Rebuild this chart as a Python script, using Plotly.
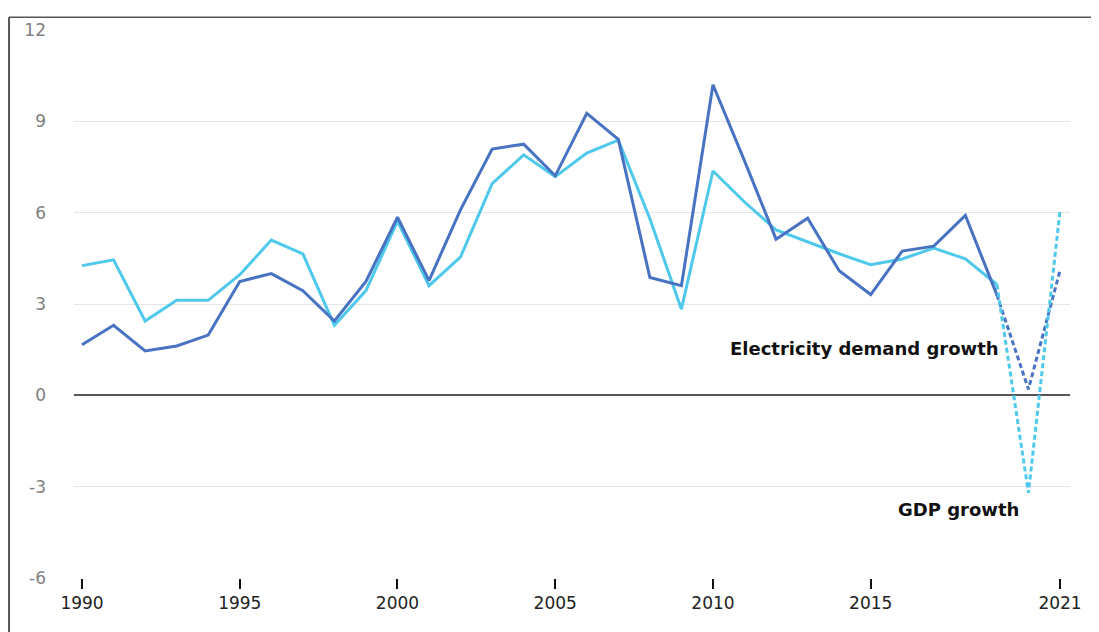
import plotly.graph_objects as go

years = list(range(1990, 2022))
electricity = [1.66, 2.3, 1.46, 1.62, 1.98, 3.74, 4.0, 3.44, 2.44, 3.74,
               5.85, 3.77, 6.1, 8.09, 8.25, 7.21, 9.26, 8.41, 3.87, 3.6,
               10.2, 7.7, 5.13, 5.82, 4.09, 3.31, 4.74, 4.9, 5.91, 3.3,
               0.2, 4.1]
gdp = [4.26, 4.45, 2.44, 3.12, 3.12, 3.96, 5.1, 4.65, 2.3, 3.44,
       5.72, 3.6, 4.55, 6.95, 7.9, 7.18, 7.96, 8.38, 5.8, 2.83,
       7.37, 6.35, 5.43, 5.04, 4.65, 4.29, 4.48, 4.84, 4.48, 3.64,
       -3.2, 6.05]
x_tickvals = [1990, 1995, 2000, 2005, 2010, 2015, 2021]
y_tickvals = [-6, -3, 0, 3, 6, 9, 12]
y_ticktext = ["-6", "-3", "0", "3", "6", "9", "12"]

split = years.index(2019)
dark = "#4872C2"
light = "#4EC9EB"

fig = go.Figure()
fig.add_trace(go.Scatter(x=years[:split + 1], y=gdp[:split + 1], mode="lines",
                         line=dict(color=light, width=3), name="GDP growth"))
fig.add_trace(go.Scatter(x=years[:split + 1], y=electricity[:split + 1], mode="lines",
                         line=dict(color=dark, width=3), name="Electricity demand growth"))
fig.add_trace(go.Scatter(x=years[split:], y=electricity[split:], mode="lines",
                         line=dict(color=dark, width=3, dash="5px,3px")))
fig.add_trace(go.Scatter(x=years[split:], y=gdp[split:], mode="lines",
                         line=dict(color=light, width=3, dash="5px,3px")))

ann_font = dict(family="DejaVu Sans", size=18, color="#111")
fig.add_annotation(x=2014.8, y=1.53, xref="x", yref="y", text="<b>Electricity demand growth</b>",
                   showarrow=False, font=ann_font)
fig.add_annotation(x=2017.77, y=-3.74, xref="x", yref="y", text="<b>GDP growth</b>",
                   showarrow=False, font=ann_font)

# frame lines (top and left)
L, T, PW, PH = 66, 16, 996, 554
top_y = 1 + (T - 3) / PH
left_x = (1 - L) / PW
fig.add_shape(type="line", xref="paper", yref="paper", x0=left_x, x1=1.05, y0=top_y, y1=top_y,
              line=dict(color="#555", width=1.5))
fig.add_shape(type="line", xref="paper", yref="paper", x0=left_x, x1=left_x, y0=-0.2, y1=top_y,
              line=dict(color="#222", width=1.5))

fig.update_layout(
    width=1091, height=624,
    margin=dict(l=L, r=29, t=T, b=54),
    plot_bgcolor="white", paper_bgcolor="white",
    showlegend=False,
    font=dict(family="DejaVu Sans", size=17),
    xaxis=dict(range=[1989.746, 2021.317], tickvals=x_tickvals, ticktext=[str(v) for v in x_tickvals],
               showgrid=False, zeroline=False, showline=False,
               ticks="outside", ticklen=10, tickwidth=1.5, tickcolor="#111",
               tickfont=dict(size=17, color="#222")),
    yaxis=dict(range=[-6, 12], tickvals=y_tickvals, ticktext=y_ticktext,
               showgrid=True, gridcolor="#E6E6E6", gridwidth=1,
               zeroline=True, zerolinecolor="#555", zerolinewidth=1.5, showline=False,
               ticks="", ticklabelstandoff=27, tickfont=dict(size=17, color="#808080")),
)

fig.write_html("out.html")
